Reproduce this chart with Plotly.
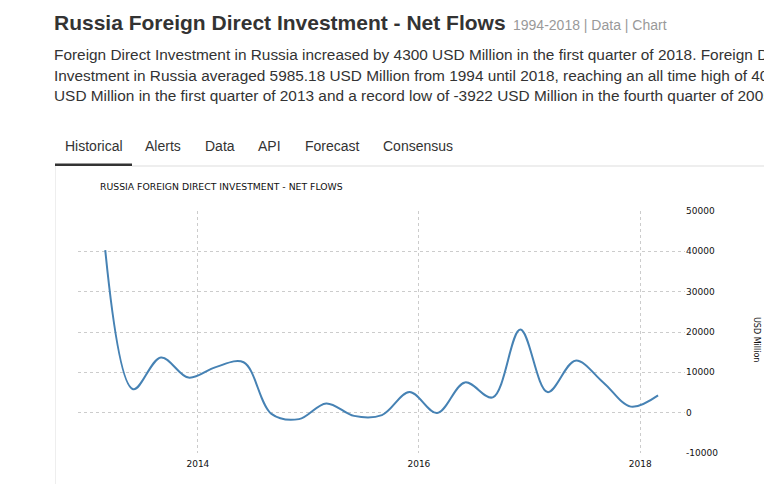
import plotly.graph_objects as go

# ---- data ----
quarters = ["2013-03-01", "2013-06-01", "2013-09-01", "2013-12-01",
            "2014-03-01", "2014-06-01", "2014-09-01", "2014-12-01",
            "2015-03-01", "2015-06-01", "2015-09-01", "2015-12-01",
            "2016-03-01", "2016-06-01", "2016-09-01", "2016-12-01",
            "2017-03-01", "2017-06-01", "2017-09-01", "2017-12-01",
            "2018-03-01"]
fdi_values = [40300, 5800, 13700, 8700,
              11300, 12500, -300, -1600,
              2300, -800, -600, 5100,
              -100, 7500, 3800, 20600,
              5100, 12900, 7500, 1500,
              4300]
x_tick_vals = ["2014-01-01", "2016-01-01", "2018-01-01"]
x_tick_text = ["2014", "2016", "2018"]
y_tick_vals = [-10000, 0, 10000, 20000, 30000, 40000, 50000]
y_tick_text = ["-10000", "0", "10000", "20000", "30000", "40000", "50000"]

page_title = "Russia Foreign Direct Investment - Net Flows"
page_sub = "1994-2018 | Data | Chart"
para_lines = [
    "Foreign Direct Investment in Russia increased by 4300 USD Million in the first quarter of 2018. Foreign Direct",
    "Investment in Russia averaged 5985.18 USD Million from 1994 until 2018, reaching an all time high of 40357",
    "USD Million in the first quarter of 2013 and a record low of -3922 USD Million in the fourth quarter of 2005.",
]
tabs = ["Historical", "Alerts", "Data", "API", "Forecast", "Consensus"]
tab_x = [65, 145, 205, 258, 305, 383]
chart_title = "RUSSIA FOREIGN DIRECT INVESTMENT - NET FLOWS"
y_title = "USD Million"

# ---- layout geometry (page has an 8px body margin) ----
OFF = 8
W, H = 772, 484 - OFF
L, R, T, B = 70, 95, 203, 31
pw, ph = W - L - R, H - T - B


def px(sx):
    return (sx - OFF - L) / pw


def py(sy):
    return (H - B - (sy - OFF)) / ph


fig = go.Figure()
fig.add_trace(go.Scatter(
    x=quarters, y=fdi_values, mode="lines",
    line=dict(color="#4682b4", width=2, shape="spline", smoothing=1.0),
    hoverinfo="skip", showlegend=False,
))

ann = []
ann.append(dict(text="<b>" + page_title + "</b>", x=px(52), y=py(22), xref="paper", yref="paper",
                xanchor="left", yanchor="middle", showarrow=False,
                font=dict(family="Liberation Sans", size=21, color="#333333")))
ann.append(dict(text=page_sub, x=px(511), y=py(25), xref="paper", yref="paper",
                xanchor="left", yanchor="middle", showarrow=False,
                font=dict(family="Liberation Sans", size=14, color="#999999")))
for i, line in enumerate(para_lines):
    ann.append(dict(text=line, x=px(52), y=py(55 + i * 20.5), xref="paper", yref="paper",
                    xanchor="left", yanchor="middle", showarrow=False,
                    font=dict(family="Liberation Sans", size=15.4, color="#333333")))
for t, x in zip(tabs, tab_x):
    ann.append(dict(text=t, x=px(x - 2), y=py(146), xref="paper", yref="paper",
                    xanchor="left", yanchor="middle", showarrow=False,
                    font=dict(family="Liberation Sans", size=14, color="#333333")))
ann.append(dict(text=chart_title, x=px(98), y=py(186), xref="paper", yref="paper",
                xanchor="left", yanchor="middle", showarrow=False,
                font=dict(family="DejaVu Sans", size=9.3, color="#111111")))
ann.append(dict(text=y_title, x=px(757), y=py(339), xref="paper", yref="paper",
                xanchor="center", yanchor="middle", showarrow=False, textangle=90,
                font=dict(family="DejaVu Sans", size=8, color="#111111")))

shapes = [
    dict(type="rect", xref="paper", yref="paper", x0=px(55), x1=px(132), y0=py(166), y1=py(163.5),
         fillcolor="#333333", line=dict(width=0)),
    dict(type="line", xref="paper", yref="paper", x0=px(132), x1=px(780), y0=py(166), y1=py(166),
         line=dict(color="#dddddd", width=1)),
    dict(type="line", xref="paper", yref="paper", x0=px(55.5), x1=px(55.5), y0=py(166), y1=py(484),
         line=dict(color="#eeeeee", width=1)),
]

fig.update_layout(
    width=W, height=H,
    margin=dict(l=L, r=R, t=T, b=B, pad=0),
    paper_bgcolor="white", plot_bgcolor="white",
    annotations=ann, shapes=shapes,
    xaxis=dict(range=["2012-12-01", "2018-05-29"], tickvals=x_tick_vals, ticktext=x_tick_text,
               showgrid=True, gridcolor="#cccccc", griddash="dot", gridwidth=1,
               zeroline=False, showline=False, ticks="", ticklabelstandoff=4,
               tickfont=dict(family="DejaVu Sans", size=9, color="#111111")),
    yaxis=dict(range=[-10000, 50000], side="right", tickvals=y_tick_vals, ticktext=y_tick_text,
               showgrid=True, gridcolor="#cccccc", griddash="dot", gridwidth=1,
               zeroline=False, showline=False, ticks="",
               tickfont=dict(family="DejaVu Sans", size=9, color="#111111")),
    hovermode=False,
)

fig.write_html("out.html")
